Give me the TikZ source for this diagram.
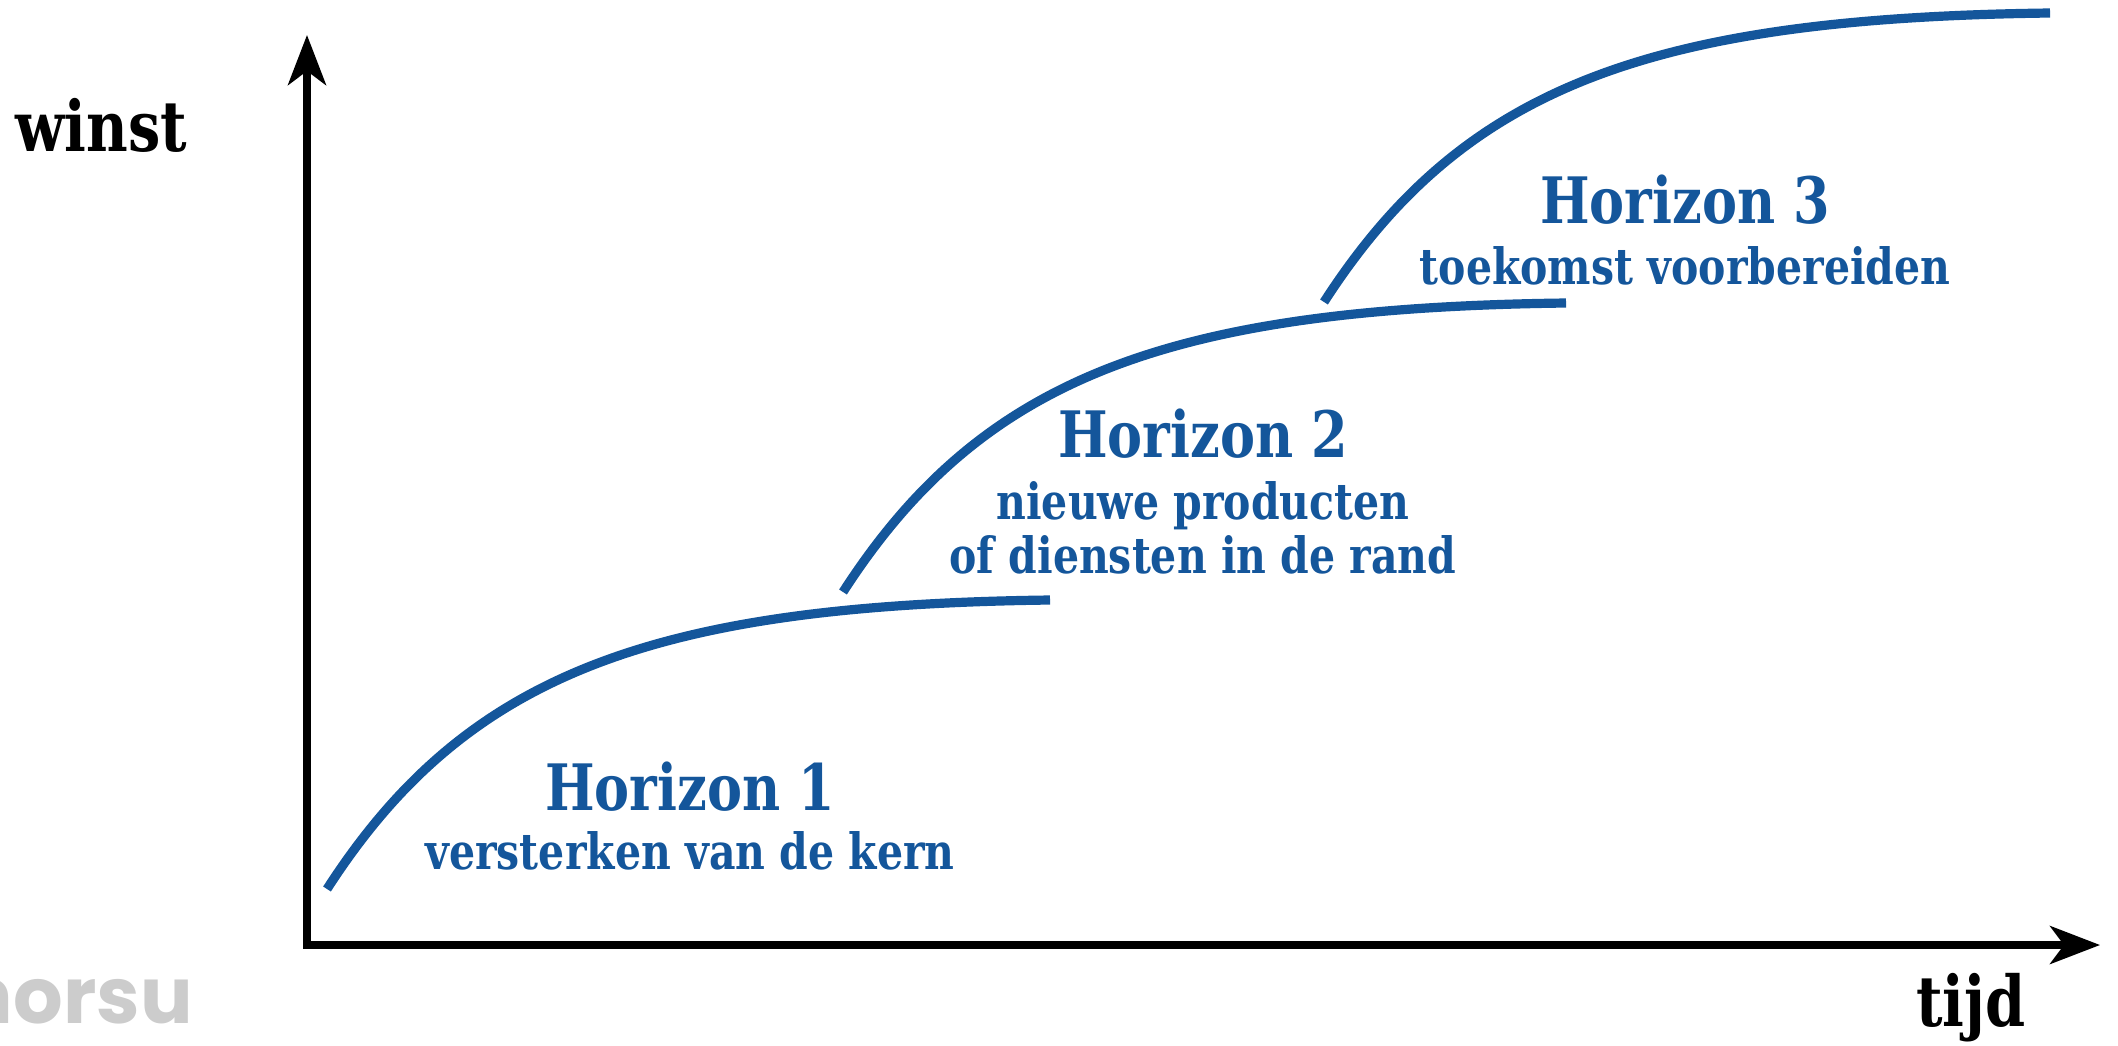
\documentclass[tikz,border=0pt]{standalone}
\usepackage{fontspec}
\setmainfont{DejaVu Serif}
\setsansfont{Poppins}
\newfontfamily\slabfont[FakeStretch=0.82]{DejaVu Serif}
\usetikzlibrary{arrows.meta}
\definecolor{horizonblue}{RGB}{20,86,155}
\definecolor{logogray}{RGB}{204,204,204}

\tikzset{
  axis/.style={line width=3.6pt, miter limit=4, >={Stealth[length=25pt,width=19pt,inset=7pt]}, <->},
  growth/.style={draw=horizonblue, line width=4.6pt},
  title/.style={text=horizonblue, inner sep=0pt, anchor=base, font=\slabfont\bfseries\fontsize{32}{36}\selectfont},
  subtitle/.style={text=horizonblue, inner sep=0pt, anchor=base, font=\slabfont\bfseries\fontsize{25}{30}\selectfont},
  axislabel/.style={inner sep=0pt, anchor=base, font=\slabfont\bfseries\fontsize{35}{40}\selectfont}
}

\begin{document}
\begin{tikzpicture}[x=0.5pt,y=0.5pt,yscale=-1,xscale=1]
\useasboundingbox (0,0) rectangle (2118,1045);
% axes
\coordinate (origin) at (307,945);
\coordinate (ytip) at (307,35);
\coordinate (xtip) at (2100,945);
\draw [axis] (ytip) -- (origin) -- (xtip);
\node [axislabel] (winst) at (101,151) {winst};
\node [axislabel] (tijd) at (1971,1026) {tijd};
% the three growth curves
\draw [growth] (327,889) .. controls (465,675) and (650,605) .. (1050,600);
\draw [growth] (843,592) .. controls (981,378) and (1166,308) .. (1566,303);
\draw [growth] (1324,302) .. controls (1462,88) and (1647,18) .. (2050,13);
% labels
\node [title] (h1) at (690,810) {Horizon 1};
\node [subtitle] (h1sub) at (690,869) {versterken van de kern};
\node [title] (h2) at (1203,457) {Horizon 2};
\node [subtitle] (h2sub) at (1203,519) {nieuwe producten};
\node [subtitle] (h2subb) at (1203,573) {of diensten in de rand};
\node [title] (h3) at (1685,223) {Horizon 3};
\node [subtitle] (h3sub) at (1685,284) {toekomst voorbereiden};
% logo
\node [inner sep=0pt, anchor=base east, text=logogray, font=\sffamily\bfseries\fontsize{39}{44}\selectfont] (logo) at (193,1023) {norsu};
\end{tikzpicture}
\end{document}
